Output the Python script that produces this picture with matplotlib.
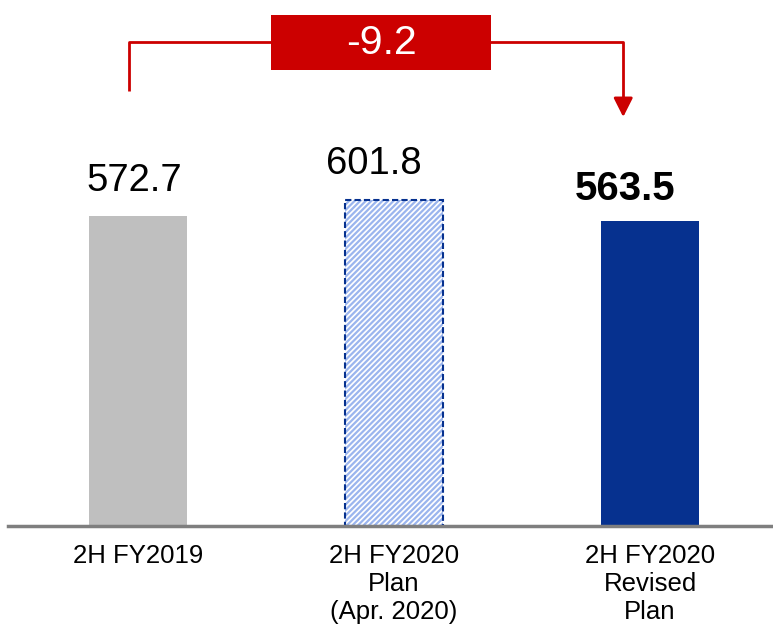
import matplotlib
matplotlib.use('Agg')
import matplotlib.pyplot as plt
from matplotlib.patches import Rectangle

categories = ['2H FY2019', '2H FY2020\nPlan\n(Apr. 2020)', '2H FY2020\nRevised\nPlan']
values = [572.7, 601.8, 563.5]
labels = ['572.7', '601.8', '563.5']
delta = round(values[2] - values[0], 1)

red = '#cc0000'
dark_blue = '#06318f'

plt.rcParams['hatch.linewidth'] = 1.6
plt.rcParams['font.family'] = ['Liberation Sans', 'DejaVu Sans']

fig = plt.figure(figsize=(7.73, 6.28), dpi=100)
ax = fig.add_axes([8 / 773, 102 / 628, 765 / 773, 526 / 628])
ax.set_xlim(-0.508, 2.48)
ax.set_ylim(0, 971.7)

x = [0, 1, 2]
w = 0.383
ax.bar(x[0], values[0], width=w, color='#bfbfbf', linewidth=0)
ax.bar(x[1], values[1], width=w, color='white', edgecolor='#9bb5ee', hatch='//////', linewidth=0)
ax.bar(x[1], values[1], width=w, fill=False, edgecolor=dark_blue, linestyle=(0, (3, 1.5)), linewidth=1.5)
ax.bar(x[2], values[2], width=w, color=dark_blue, linewidth=0)

# value labels (offsets in points)
offsets = [(-3, 12), (-14.5, 13), (-18, 9.5)]
for i, (v, lab) in enumerate(zip(values, labels)):
    ax.annotate(lab, (x[i], v), xytext=offsets[i], textcoords='offset points',
                ha='center', va='bottom', fontsize=27.5 if i < 2 else 29,
                fontweight='bold' if i == 2 else 'normal', color='black')

# bracket with delta box
lx, rx = -0.035, 1.895
y_top = 894
ax.plot([lx, lx, 0.53], [803, y_top, y_top], color=red, lw=2, solid_capstyle='butt', clip_on=False)
ax.plot([1.37, rx, rx], [y_top, y_top, 780], color=red, lw=2, solid_capstyle='butt', clip_on=False)
ax.annotate('', xy=(rx, 755.6), xytext=(rx, 790),
            arrowprops=dict(arrowstyle='-|>,head_length=1.15,head_width=0.58', color=red, lw=2,
                            shrinkA=0, shrinkB=0))
ax.add_patch(Rectangle((0.5195, 842), 1.379 - 0.5195, 944 - 842, facecolor=red, edgecolor='none', zorder=3))
ax.text((0.5195 + 1.379) / 2, 893, f'{delta:.1f}', ha='center', va='center', color='white',
        fontsize=29.5, zorder=4)

ax.set_xticks(x)
ax.set_xticklabels(categories, fontsize=18.5, linespacing=1.2)
ax.tick_params(axis='x', length=0, pad=13)
ax.set_yticks([])
for s in ['top', 'right', 'left']:
    ax.spines[s].set_visible(False)
ax.spines['bottom'].set_color('#7f7f7f')
ax.spines['bottom'].set_linewidth(2.5)

fig.savefig('out.png', dpi=100)
